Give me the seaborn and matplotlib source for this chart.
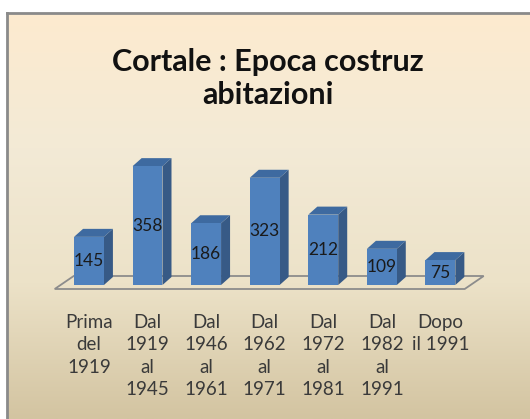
import numpy as np
import matplotlib
matplotlib.use("Agg")
import matplotlib.pyplot as plt
from matplotlib.patches import Polygon
from matplotlib.colors import LinearSegmentedColormap
import pandas as pd
import seaborn as sns

# ---- dati ----
periodi = ["Prima\ndel\n1919", "Dal\n1919\nal\n1945", "Dal\n1946\nal\n1961",
           "Dal\n1962\nal\n1971", "Dal\n1972\nal\n1981", "Dal\n1982\nal\n1991",
           "Dopo\nil 1991"]
abitazioni = [145, 358, 186, 323, 212, 109, 75]
titolo = "Cortale : Epoca costruz\nabitazioni"

df = pd.DataFrame({"periodo": periodi, "abitazioni": abitazioni})

sns.set_theme(style="white")
plt.rcParams["font.family"] = ["Lato", "DejaVu Sans"]

W, H = 530, 419
fig = plt.figure(figsize=(W / 100, H / 100), dpi=100)
fig.patch.set_facecolor("white")

# ---- sfondo a gradiente (riquadro del grafico) ----
bg = fig.add_axes([7 / W, 0, 1 - 7 / W, 1 - 13 / H])
cmap_bg = LinearSegmentedColormap.from_list(
    "pergamena", ["#fdebcf", "#f3ead6", "#ece2c8", "#d3c4a1"])
bg.imshow(np.linspace(0, 1, 256).reshape(-1, 1), cmap=cmap_bg,
          aspect="auto", extent=(0, 1, 0, 1))
bg.set_xticks([]); bg.set_yticks([])
bg.set_xlim(0, 1); bg.set_ylim(0, 1)
for side in ["right", "bottom"]:
    bg.spines[side].set_visible(False)
for side in ["left", "top"]:
    bg.spines[side].set_color("#8a8a8a")
    bg.spines[side].set_linewidth(2)

# ---- area delle barre ----
ax = fig.add_axes([59.7 / W, (H - 285) / H, 410 / W, 132.8 / H])
ax.set_facecolor("none")
sns.barplot(data=df, x="periodo", y="abitazioni", color="#4f81bd",
            saturation=1, width=0.51, ax=ax, zorder=3, linewidth=0)
ax.set_xlim(-0.5, len(periodi) - 0.5)
ax.set_ylim(0, 400)
ax.set_xlabel(""); ax.set_ylabel("")
ax.set_yticks([])
for s in ax.spines.values():
    s.set_visible(False)
ax.tick_params(axis="x", length=0, pad=21, labelsize=13.5, labelcolor="#3a3a3a")
for lab in ax.get_xticklabels():
    lab.set_linespacing(1.38)
    lab.set_verticalalignment("top")

# pixel -> unita' dati
p0 = ax.transData.transform((0, 0))
p1 = ax.transData.transform((1, 1))
pxx, pxy = p1[0] - p0[0], p1[1] - p0[1]
dx, dy = 9 / pxx, 8 / pxy

# pavimento
fy = -4 / pxy
fx0, fx1 = -0.5 - 5 / pxx, len(periodi) - 0.5 - 5 / pxx
bx, by = 19 / pxx, 13 / pxy
floor = Polygon([(fx0, fy), (fx1, fy), (fx1 + bx, fy + by), (fx0 + bx, fy + by)],
                closed=True, fill=False, edgecolor="#8c8c8c", lw=1.3,
                clip_on=False, zorder=1)
ax.add_patch(floor)

# facce laterali e superiori (effetto 3D)
for p in ax.patches[:]:
    if p is floor:
        continue
    x0, w, h = p.get_x(), p.get_width(), p.get_height()
    x1 = x0 + w
    side = Polygon([(x1, 0), (x1, h), (x1 + dx, h + dy), (x1 + dx, dy)],
                   closed=True, facecolor="#375a86", edgecolor="none",
                   clip_on=False, zorder=2)
    top = Polygon([(x0, h), (x1, h), (x1 + dx, h + dy), (x0 + dx, h + dy)],
                  closed=True, facecolor="#3e6aa0", edgecolor="none",
                  clip_on=False, zorder=2)
    ax.add_patch(side)
    ax.add_patch(top)

ax.bar_label(ax.containers[0], label_type="center", fontsize=12.5,
             color="#1a1a1a", zorder=4)

# ---- titolo ----
fig.text(268 / W, 1 - 78.5 / H, titolo, ha="center", va="center",
         fontsize=22, fontweight="bold", color="#111111", linespacing=1.22)

fig.savefig("out.png", dpi=100)
